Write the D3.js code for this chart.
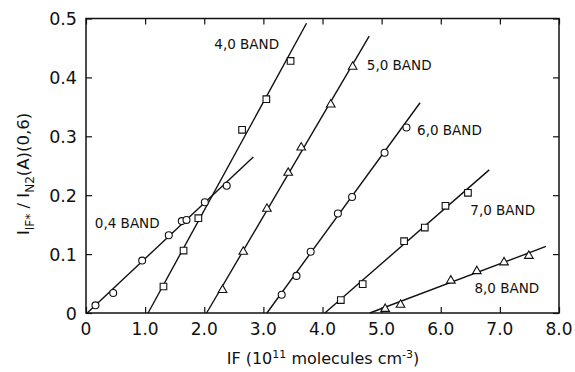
<!DOCTYPE html>
<html><head><meta charset="utf-8">
<script src="https://cdn.jsdelivr.net/npm/d3@7"></script>
<style>
body{margin:0;background:#fff;}
text{font-family:"DejaVu Sans","Liberation Sans",Arial,sans-serif;fill:#111;}
</style></head>
<body><svg id="c" width="575" height="372"></svg>
<script>
// ---- data ----
const bandNames = ["0,4 BAND","4,0 BAND","5,0 BAND","6,0 BAND","7,0 BAND","8,0 BAND"];
const bandMarkers = ["circle","square","triangle","circle","square","triangle"];
const band04X = [0.16,0.46,0.95,1.40,1.62,1.70,2.01,2.38];
const band04Y = [0.013,0.034,0.089,0.132,0.156,0.158,0.188,0.216];
const band40X = [1.31,1.65,1.90,2.64,3.05,3.46];
const band40Y = [0.045,0.106,0.161,0.311,0.363,0.428];
const band50X = [2.31,2.66,3.06,3.42,3.64,4.14,4.51];
const band50Y = [0.039,0.104,0.177,0.238,0.281,0.354,0.418];
const band60X = [3.31,3.56,3.80,4.26,4.50,5.05,5.42];
const band60Y = [0.031,0.063,0.104,0.169,0.197,0.272,0.315];
const band70X = [4.31,4.68,5.38,5.73,6.08,6.46];
const band70Y = [0.022,0.049,0.122,0.145,0.182,0.204];
const band80X = [5.06,5.32,6.17,6.61,7.07,7.49];
const band80Y = [0.007,0.014,0.055,0.071,0.086,0.097];
// fitted straight lines as drawn (start/end)
const lineX0 = [0.02,1.05,2.04,3.06,4.04,4.80];
const lineY0 = [0,0,0,0,0,0];
const lineX1 = [2.83,3.73,4.79,5.65,6.82,7.78];
const lineY1 = [0.265,0.492,0.470,0.357,0.243,0.113];
// label anchor positions in data units (left edge, baseline)
const labelX = [0.15,2.17,4.75,5.6,6.5,6.57];
const labelY = [0.144,0.449,0.412,0.302,0.167,0.034];
const xTicks = [0,1,2,3,4,5,6,7,8];
const xTickLabels = ["0","1.0","2.0","3.0","4.0","5.0","6.0","7.0","8.0"];
const yTicks = [0,0.1,0.2,0.3,0.4,0.5];
const yTickLabels = ["0","0.1","0.2","0.3","0.4","0.5"];

const bandX = [band04X,band40X,band50X,band60X,band70X,band80X];
const bandY = [band04Y,band40Y,band50Y,band60Y,band70Y,band80Y];

const svg = d3.select("#c");
const L=86, R=559, T=18.5, B=313;
const x = d3.scaleLinear().domain([0,8]).range([L,R]);
const y = d3.scaleLinear().domain([0,0.5]).range([B,T]);

// axes with inward ticks
const tl = 6;
svg.append("g").attr("transform",`translate(0,${B})`)
  .call(d3.axisBottom(x).tickValues(xTicks).tickSize(-tl).tickFormat(""))
  .call(g=>g.select(".domain").remove());
svg.append("g").attr("transform",`translate(0,${T})`)
  .call(d3.axisTop(x).tickValues(xTicks).tickSize(-tl).tickFormat(""))
  .call(g=>g.select(".domain").remove());
svg.append("g").attr("transform",`translate(${L},0)`)
  .call(d3.axisLeft(y).tickValues(yTicks).tickSize(-tl).tickFormat(""))
  .call(g=>g.select(".domain").remove());
svg.append("g").attr("transform",`translate(${R},0)`)
  .call(d3.axisRight(y).tickValues(yTicks).tickSize(-tl).tickFormat(""))
  .call(g=>g.select(".domain").remove());
svg.selectAll(".tick line").attr("stroke","#111").attr("stroke-width",1.2);

svg.append("rect").attr("x",L).attr("y",T).attr("width",R-L).attr("height",B-T)
  .attr("fill","none").attr("stroke","#111").attr("stroke-width",1.5);

// tick labels
svg.append("g").selectAll("text").data(xTicks).join("text")
  .attr("x",d=>x(d)).attr("y",335).attr("text-anchor","middle")
  .style("font-size","17px").text((d,i)=>xTickLabels[i]);
svg.append("g").selectAll("text").data(yTicks).join("text")
  .attr("x",77).attr("y",d=>y(d)+6.5).attr("text-anchor","end")
  .style("font-size","17.5px").text((d,i)=>yTickLabels[i]);

// fitted lines
svg.append("g").selectAll("line").data(bandNames).join("line")
  .attr("x1",(d,i)=>x(lineX0[i])).attr("y1",(d,i)=>y(lineY0[i]))
  .attr("x2",(d,i)=>x(lineX1[i])).attr("y2",(d,i)=>y(lineY1[i]))
  .attr("stroke","#111").attr("stroke-width",1.4);

// markers
const sym = {circle:d3.symbolCircle, square:d3.symbolSquare, triangle:d3.symbolTriangle};
const symSize = {circle:38, square:44, triangle:32};
bandNames.forEach((name,i)=>{
  const pts = bandX[i].map((v,j)=>[v,bandY[i][j]]);
  const m = bandMarkers[i];
  svg.append("g").selectAll("path").data(pts).join("path")
    .attr("transform",d=>`translate(${x(d[0])},${y(d[1])})`)
    .attr("d",d3.symbol().type(sym[m]).size(symSize[m]))
    .attr("fill","#fff").attr("stroke","#111").attr("stroke-width",1.1);
});

// band labels
svg.append("g").selectAll("text").data(bandNames).join("text")
  .attr("x",(d,i)=>x(labelX[i])).attr("y",(d,i)=>y(labelY[i]))
  .style("font-size","13.5px").text(d=>d);

// x title
const xt = svg.append("text").attr("x",323).attr("y",364).attr("text-anchor","middle")
  .style("font-size","16px");
xt.append("tspan").text("IF (10");
xt.append("tspan").attr("dy",-6).style("font-size","11px").text("11");
xt.append("tspan").attr("dy",6).text(" molecules cm");
xt.append("tspan").attr("dy",-6).style("font-size","11px").text("-3");
xt.append("tspan").attr("dy",6).text(")");

// y title
const yt = svg.append("text").attr("transform","translate(29,174) rotate(-90)")
  .attr("text-anchor","middle").style("font-size","16.5px");
yt.append("tspan").text("I");
yt.append("tspan").attr("dy",5).style("font-size","12px").text("IF*");
yt.append("tspan").attr("dy",-5).text(" / I");
yt.append("tspan").attr("dy",5).style("font-size","12px").text("N2");
yt.append("tspan").attr("dy",-5).text("(A)(0,6)");
</script></body></html>
